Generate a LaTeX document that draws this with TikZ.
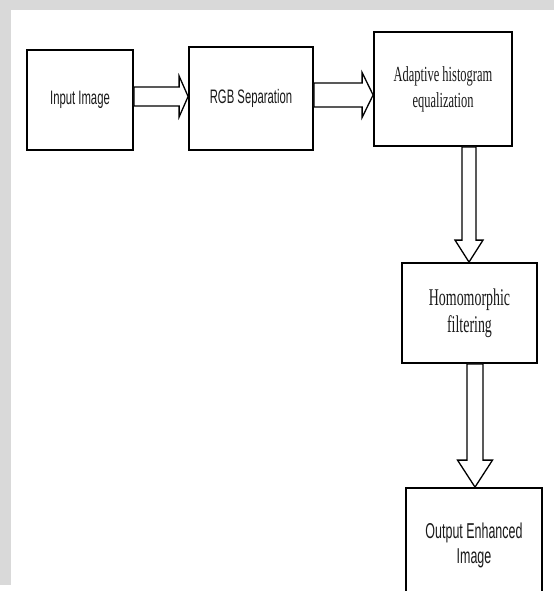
\documentclass[tikz,border=0pt]{standalone}
\usepackage{fontspec}
\usepackage{tikz}
\usetikzlibrary{calc}
\usepackage{xcolor}

\newfontfamily\blocksans[FakeStretch=0.58]{Liberation Sans}
\newfontfamily\blockserif[FakeStretch=0.58]{Liberation Serif}
\definecolor{pagegray}{HTML}{D9D9D9}
\definecolor{inkgray}{HTML}{1A1A1A}

\tikzset{
  block/.style={draw, line width=1.8pt, inner sep=0pt, align=center, text=inkgray},
  fatarrow/.style n args={3}{draw, line width=1.3pt, fill=white, line join=miter,
    to path={
      ($(\tikztostart)!#1!90:(\tikztotarget)$) --
      ($(\tikztotarget)!#3!(\tikztostart)!#1!90:(\tikztotarget)$) --
      ($(\tikztotarget)!#3!(\tikztostart)!#2!90:(\tikztotarget)$) --
      (\tikztotarget) --
      ($(\tikztotarget)!#3!(\tikztostart)!#2!-90:(\tikztotarget)$) --
      ($(\tikztotarget)!#3!(\tikztostart)!#1!-90:(\tikztotarget)$) --
      ($(\tikztostart)!#1!-90:(\tikztotarget)$) -- cycle
    }}
}

\begin{document}
\begin{tikzpicture}[x=1pt, y=1pt]
\useasboundingbox (0,0) rectangle (554,-591);
\fill[white] (0,0) rectangle (554,-591);
% grey page edges of the scan
\fill[pagegray] (0,0) rectangle (554,-10);
\fill[pagegray] (0,0) rectangle (11,-585);

\begin{scope}
\clip (0,0) rectangle (554,-591);
\node[block, minimum width=106pt, minimum height=100pt,
  font=\blocksans\fontsize{19.5}{24}\selectfont] (input) at (80,-100) {Input Image};
\node[block, minimum width=124pt, minimum height=103pt,
  font=\blocksans\fontsize{19.5}{24}\selectfont] (rgb) at (251,-98.5) {RGB Separation};
\node[block, minimum width=138pt, minimum height=114pt,
  font=\blockserif\fontsize{21.5}{26}\selectfont] (ahe) at (443,-89)
  {Adaptive histogram\\equalization};
\node[block, minimum width=135pt, minimum height=100pt,
  font=\blockserif\fontsize{24}{27}\selectfont] (homo) at (469.5,-313)
  {Homomorphic\\filtering};
\node[block, minimum width=136pt, minimum height=114pt,
  font=\blocksans\fontsize{21.5}{25}\selectfont] (output) at (474,-545)
  {Output Enhanced\\Image};

% hollow arrows
\path[fatarrow={9.5pt}{20.5pt}{9pt}] ([yshift=3.5pt]input.east) to ([yshift=2pt]rgb.west);
\path[fatarrow={12pt}{22.5pt}{11pt}] ([yshift=3.5pt]rgb.east) to ([yshift=-6pt]ahe.west);
\path[fatarrow={7pt}{14pt}{22pt}] ([xshift=26pt]ahe.south) to ([xshift=-0.5pt]homo.north);
\path[fatarrow={8pt}{17.5pt}{27pt}] ([xshift=5.5pt]homo.south) to ([xshift=1pt]output.north);
\end{scope}
\end{tikzpicture}
\end{document}
